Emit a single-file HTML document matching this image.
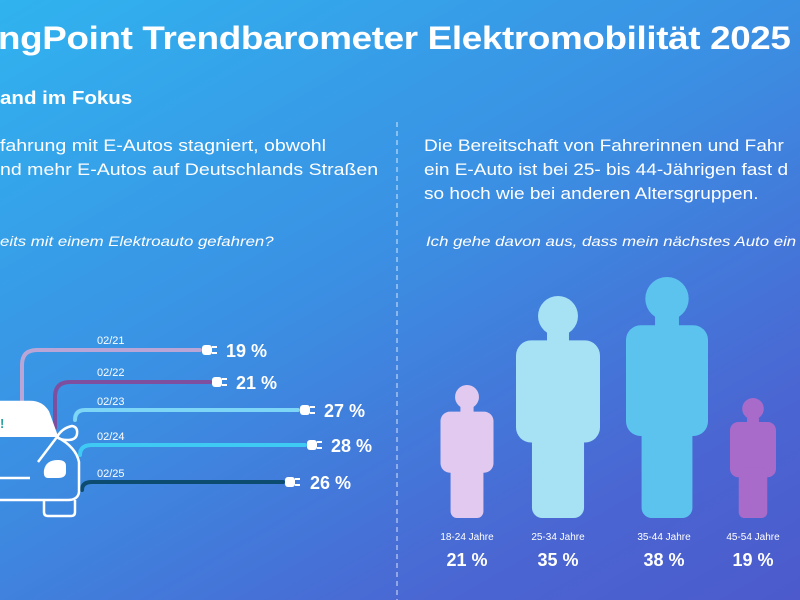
<!DOCTYPE html>
<html><head><meta charset="utf-8"><style>
html,body{margin:0;padding:0}
body{width:800px;height:600px;overflow:hidden;position:relative;background:linear-gradient(150deg,#30b3ef 0%,#3b8fe3 45%,#4a66d2 80%,#4c5acc 100%);font-family:"Liberation Sans",sans-serif;color:#fff}
.t{position:absolute;white-space:nowrap;transform-origin:0 0}
</style></head><body>
<div class="t" style="left:-2px;top:20px;font-size:32px;font-weight:bold;letter-spacing:-0.3px;transform:scaleX(1.15)">ngPoint Trendbarometer Elektromobilität 2025</div>
<div class="t" style="left:0;top:88px;font-size:18px;font-weight:bold;transform:scaleX(1.14)">and im Fokus</div>
<div class="t" style="left:0;top:134px;font-size:17px;line-height:24px;transform:scaleX(1.15)">fahrung mit E-Autos stagniert, obwohl<br>nd mehr E-Autos auf Deutschlands Straßen</div>
<div class="t" style="left:424px;top:134px;font-size:17px;line-height:24px;transform:scaleX(1.12)">Die Bereitschaft von Fahrerinnen und Fahr<br>ein E-Auto ist bei 25- bis 44-Jährigen fast d<br>so hoch wie bei anderen Altersgruppen.</div>
<div class="t" style="left:0;top:233px;font-size:14px;font-style:italic;transform:scaleX(1.2)">eits mit einem Elektroauto gefahren?</div>
<div class="t" style="left:426px;top:233px;font-size:14px;font-style:italic;transform:scaleX(1.2)">Ich gehe davon aus, dass mein nächstes Auto ein E</div>
<svg width="800" height="600" style="position:absolute;left:0;top:0">
<line x1="397" y1="122" x2="397" y2="600" stroke="#fff" stroke-width="1" stroke-dasharray="5,4" opacity="0.8"/>
<g fill="none" stroke-width="4" stroke-linecap="round">
<path d="M22,400 V365 Q22,350 37,350 H200" stroke="#b9a6d6"/>
<path d="M55,428 V397 Q55,382 70,382 H210" stroke="#7e4f9f"/>
<path d="M75,420 Q75,410 85,410 H298" stroke="#7dd6f5"/>
<path d="M80,455 Q80,445 92,445 H305" stroke="#3fcaf3"/>
<path d="M82,490 Q82,482 92,482 H283" stroke="#0c4c70"/>
</g>
<g fill="#fff">
<g transform="translate(200,350)"><rect x="2" y="-5" width="10" height="10" rx="3"/><rect x="12" y="-4" width="5" height="2"/><rect x="12" y="2" width="5" height="2"/></g>
<g transform="translate(210,382)"><rect x="2" y="-5" width="10" height="10" rx="3"/><rect x="12" y="-4" width="5" height="2"/><rect x="12" y="2" width="5" height="2"/></g>
<g transform="translate(298,410)"><rect x="2" y="-5" width="10" height="10" rx="3"/><rect x="12" y="-4" width="5" height="2"/><rect x="12" y="2" width="5" height="2"/></g>
<g transform="translate(305,445)"><rect x="2" y="-5" width="10" height="10" rx="3"/><rect x="12" y="-4" width="5" height="2"/><rect x="12" y="2" width="5" height="2"/></g>
<g transform="translate(283,482)"><rect x="2" y="-5" width="10" height="10" rx="3"/><rect x="12" y="-4" width="5" height="2"/><rect x="12" y="2" width="5" height="2"/></g>
</g>
<g font-family="Liberation Sans" fill="#fff">
<text x="97" y="344" font-size="11">02/21</text>
<text x="97" y="376" font-size="11">02/22</text>
<text x="97" y="405" font-size="11">02/23</text>
<text x="97" y="440" font-size="11">02/24</text>
<text x="97" y="477" font-size="11">02/25</text>
<text x="226" y="357" font-size="18" font-weight="bold">19 %</text>
<text x="236" y="389" font-size="18" font-weight="bold">21 %</text>
<text x="324" y="417" font-size="18" font-weight="bold">27 %</text>
<text x="331" y="452" font-size="18" font-weight="bold">28 %</text>
<text x="310" y="489" font-size="18" font-weight="bold">26 %</text>
</g>
<path d="M0,402 H30 Q42,402 48,412 L57,437 H0 Z" fill="#fff"/>
<text x="0" y="428" font-size="13" fill="#2aa0a0" font-weight="bold">!</text>
<g fill="none" stroke="#fff" stroke-width="2.5" stroke-linejoin="round">
<path d="M0,402 H30 Q42,402 48,412 L57,437"/>
<path d="M57,437 Q62,428 72,426 Q78,427 77,434 Q76,440 68,440 Q60,440 57,437"/>
<path d="M57,437 Q76,447 79,462 V492 Q78,500 68,500 H0"/>
<path d="M57,437 L38,462"/>
<path d="M0,478 H30"/>
<path d="M44,500 V512 Q44,516 48,516 H71 Q75,516 75,512 V500"/>
</g>
<path d="M44,470 Q46,460 58,460 Q66,460 66,466 V472 Q66,478 58,478 H48 Q43,478 44,470 Z" fill="#fff"/>
<g id="people"></g>
<g font-family="Liberation Sans" fill="#fff" text-anchor="middle">
<text x="467" y="540" font-size="10">18-24 Jahre</text>
<text x="558" y="540" font-size="10">25-34 Jahre</text>
<text x="664" y="540" font-size="10">35-44 Jahre</text>
<text x="753" y="540" font-size="10">45-54 Jahre</text>
<text x="801" y="540" font-size="10" text-anchor="start">5</text>
<text x="467" y="566" font-size="18" font-weight="bold">21 %</text>
<text x="558" y="566" font-size="18" font-weight="bold">35 %</text>
<text x="664" y="566" font-size="18" font-weight="bold">38 %</text>
<text x="753" y="566" font-size="18" font-weight="bold">19 %</text>
</g>
</svg>
<script>
(function(){
var g=document.getElementById('people');
var P=[[467,385,133,53,'#e2c9ef'],[558,296,222,84,'#a6e2f3'],[667,277,241,82,'#5cc3ef'],[753,398,120,46,'#a86bc9']];
var s='';
P.forEach(function(p){
var cx=p[0],t=p[1],h=p[2],w=p[3],c=p[4];
var r=h*0.09, hy=t+r;
var bt=t+h*0.2, bb=t+h*0.66, lw=w*0.62, ft=t+h;
s+='<circle cx="'+cx+'" cy="'+hy+'" r="'+r+'" fill="'+c+'"/>';
s+='<rect x="'+(cx-r*0.55)+'" y="'+hy+'" width="'+(r*1.1)+'" height="'+(bt-hy+5)+'" fill="'+c+'"/>';
s+='<rect x="'+(cx-w/2)+'" y="'+bt+'" width="'+w+'" height="'+(bb-bt)+'" rx="'+(w*0.18)+'" fill="'+c+'"/>';
s+='<rect x="'+(cx-lw/2)+'" y="'+(bb-10)+'" width="'+lw+'" height="'+(ft-bb+10)+'" rx="'+(lw*0.2)+'" fill="'+c+'"/>';
});
g.innerHTML=s;
})();
</script>
</body></html>
